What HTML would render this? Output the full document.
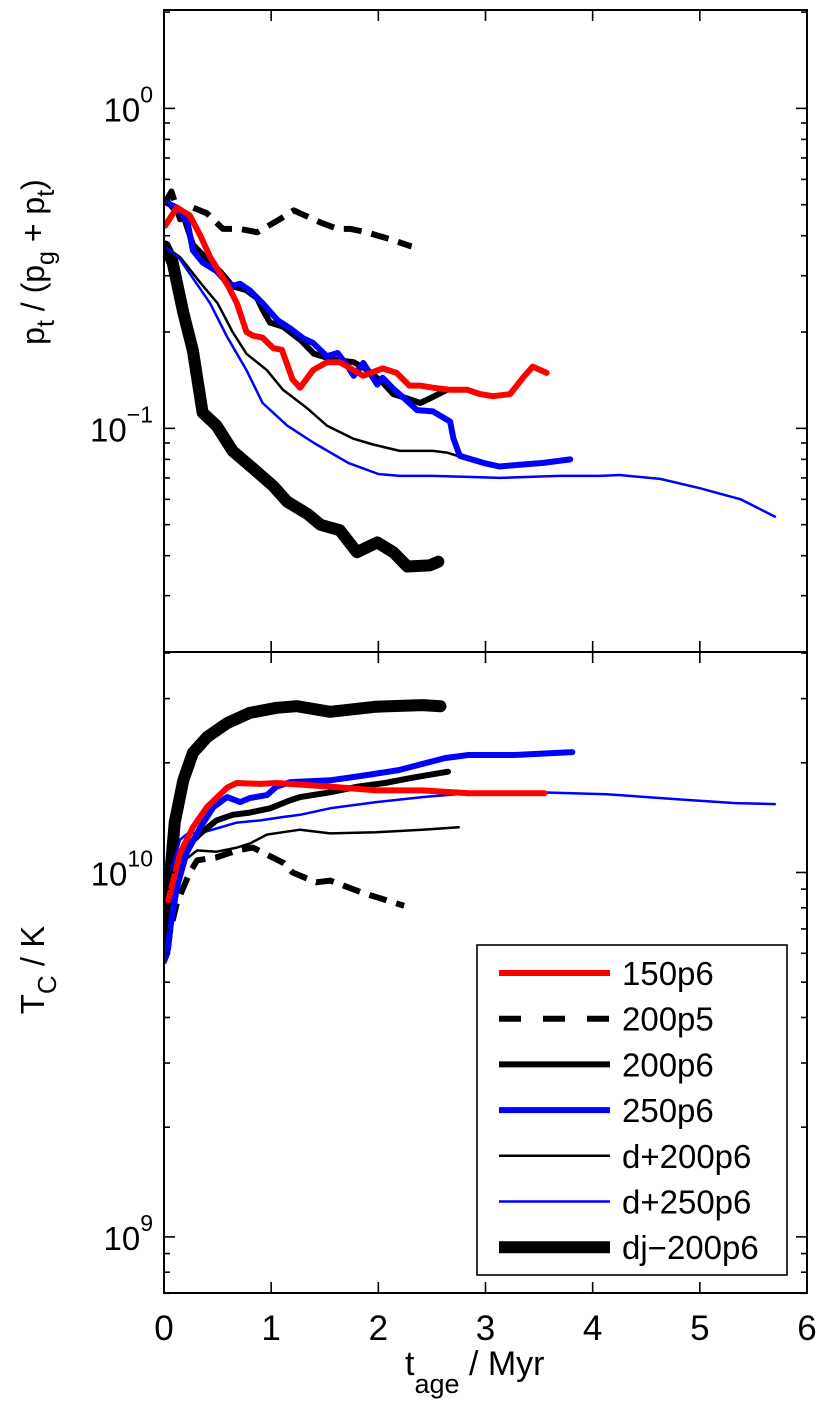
<!DOCTYPE html>
<html><head><meta charset="utf-8"><style>
html,body{margin:0;padding:0;background:#fff;}
svg{display:block;font-family:"Liberation Sans",Arial,sans-serif;}
</style></head><body>
<svg id="chart" width="830" height="1409" viewBox="0 0 830 1409"></svg>
<script>
// ---- data ----
const xTicks = [0,1,2,3,4,5,6];
const topDecades = [-1,0];
const botDecades = [9,10];
const legendLabels = ["150p6","200p5","200p6","250p6","d+200p6","d+250p6","dj\u2212200p6"];

// top panel: p_t/(p_g+p_t)
const t150 = [0.01,0.12,0.24,0.34,0.43,0.60,0.68,0.77,0.83,0.92,1.02,1.10,1.20,1.27,1.39,1.52,1.64,1.86,2.04,2.17,2.29,2.39,2.51,2.67,2.83,2.95,3.07,3.23,3.35,3.44,3.57];
const p150 = [0.43,0.49,0.463,0.40,0.343,0.278,0.246,0.20,0.195,0.192,0.178,0.176,0.142,0.134,0.152,0.161,0.161,0.146,0.154,0.149,0.136,0.136,0.134,0.132,0.132,0.128,0.126,0.128,0.144,0.156,0.149];
const t200p5 = [0.03,0.07,0.15,0.27,0.40,0.55,0.71,0.87,1.08,1.21,1.27,1.46,1.62,1.74,1.89,2.11,2.31];
const p200p5 = [0.52,0.55,0.45,0.49,0.47,0.42,0.42,0.41,0.45,0.48,0.47,0.44,0.42,0.42,0.41,0.39,0.37];
const t200 = [0.01,0.08,0.18,0.27,0.43,0.52,0.64,0.77,0.87,0.92,0.99,1.11,1.28,1.40,1.58,1.77,1.90,2.05,2.14,2.27,2.39,2.48,2.64];
const p200 = [0.52,0.49,0.463,0.375,0.33,0.31,0.278,0.27,0.255,0.235,0.214,0.208,0.188,0.171,0.164,0.161,0.152,0.138,0.128,0.124,0.12,0.124,0.132];
const t250 = [0.03,0.12,0.22,0.27,0.36,0.49,0.62,0.71,0.80,0.92,1.06,1.18,1.30,1.39,1.52,1.62,1.71,1.77,1.86,1.99,2.04,2.14,2.23,2.36,2.51,2.67,2.70,2.76,2.98,3.13,3.32,3.54,3.79];
const p250 = [0.505,0.49,0.44,0.36,0.33,0.31,0.278,0.283,0.27,0.246,0.218,0.205,0.191,0.185,0.168,0.172,0.157,0.146,0.16,0.137,0.144,0.133,0.125,0.114,0.113,0.105,0.093,0.082,0.078,0.076,0.077,0.078,0.080];
const td200 = [0.03,0.15,0.34,0.50,0.64,0.77,0.96,1.11,1.33,1.52,1.76,1.95,2.20,2.51,2.64,2.74];
const pd200 = [0.366,0.343,0.285,0.246,0.20,0.171,0.152,0.132,0.116,0.102,0.093,0.089,0.085,0.085,0.084,0.082];
const td250 = [0.03,0.15,0.43,0.59,0.77,0.92,1.15,1.40,1.72,2.0,2.20,2.51,2.83,3.13,3.41,3.69,4.07,4.25,4.63,5.0,5.38,5.70];
const pd250 = [0.366,0.337,0.246,0.193,0.152,0.12,0.102,0.090,0.078,0.072,0.071,0.071,0.0705,0.070,0.0705,0.071,0.071,0.0715,0.0695,0.065,0.060,0.053];
const tdj = [0.01,0.08,0.18,0.27,0.36,0.49,0.64,0.83,1.02,1.15,1.34,1.46,1.64,1.80,1.99,2.14,2.27,2.48,2.56];
const pdj = [0.37,0.33,0.23,0.175,0.112,0.102,0.085,0.075,0.066,0.059,0.054,0.050,0.048,0.041,0.044,0.041,0.037,0.0373,0.0383];

// bottom panel: T_C / K
const bt150 = [0.04,0.15,0.27,0.40,0.59,0.68,0.90,1.05,1.55,1.98,2.41,2.84,3.27,3.55];
const T150 = [0.84e10,1.13e10,1.33e10,1.51e10,1.71e10,1.76e10,1.75e10,1.76e10,1.72e10,1.68e10,1.68e10,1.65e10,1.65e10,1.65e10];
const bt200p5 = [0.02,0.06,0.12,0.24,0.31,0.49,0.68,0.83,1.12,1.20,1.42,1.55,1.85,2.24];
const T200p5 = [0.62e10,0.696e10,0.825e10,1.0e10,1.08e10,1.10e10,1.15e10,1.17e10,1.06e10,1.0e10,0.94e10,0.95e10,0.88e10,0.81e10];
const bt200 = [0.02,0.06,0.18,0.34,0.49,0.64,0.80,0.99,1.18,1.27,1.55,1.81,2.06,2.32,2.65];
const T200 = [0.65e10,0.953e10,1.15e10,1.28e10,1.39e10,1.44e10,1.46e10,1.50e10,1.58e10,1.61e10,1.66e10,1.72e10,1.76e10,1.82e10,1.89e10];
const bt250 = [0.0,0.03,0.06,0.12,0.21,0.34,0.46,0.59,0.71,0.80,0.96,1.05,1.18,1.55,1.89,2.19,2.62,2.84,3.27,3.81];
const T250 = [0.57e10,0.60e10,0.71e10,0.91e10,1.13e10,1.33e10,1.51e10,1.61e10,1.56e10,1.60e10,1.63e10,1.72e10,1.77e10,1.79e10,1.85e10,1.91e10,2.06e10,2.10e10,2.10e10,2.14e10];
const btd200 = [0.03,0.12,0.31,0.49,0.68,0.80,0.96,1.11,1.27,1.55,1.98,2.41,2.75];
const Td200 = [0.74e10,1.04e10,1.15e10,1.14e10,1.17e10,1.20e10,1.27e10,1.29e10,1.31e10,1.28e10,1.29e10,1.31e10,1.33e10];
const btd250 = [0.03,0.06,0.15,0.22,0.37,0.49,0.68,0.90,1.11,1.27,1.55,1.98,2.41,2.84,3.48,4.13,4.77,5.33,5.70];
const Td250 = [0.62e10,1.0e10,1.23e10,1.28e10,1.29e10,1.32e10,1.37e10,1.39e10,1.42e10,1.44e10,1.50e10,1.56e10,1.61e10,1.65e10,1.66e10,1.64e10,1.59e10,1.55e10,1.54e10];
const btdj = [0.01,0.03,0.06,0.10,0.18,0.27,0.40,0.59,0.80,1.05,1.24,1.55,1.98,2.41,2.58];
const Tdj = [0.62e10,0.696e10,1.0e10,1.37e10,1.79e10,2.13e10,2.35e10,2.57e10,2.74e10,2.83e10,2.86e10,2.76e10,2.85e10,2.88e10,2.86e10];

// ---- layout ----
const NS = "http://www.w3.org/2000/svg";
const svg = document.getElementById("chart");
const L=164, R=807, T1=10, B1=652, T2=652, B2=1293;
const xs = t => L + (t-0)/(6-0)*(R-L);
const topMin=Math.log10(0.02), topMax=Math.log10(2.03);
const botMin=8.846, botMax=10.605;
const ysTop = v => B1 - (Math.log10(v)-topMin)/(topMax-topMin)*(B1-T1);
const ysBot = v => B2 - (Math.log10(v)-botMin)/(botMax-botMin)*(B2-T2);

function mk(tag, attrs, parent){ const e=document.createElementNS(NS,tag); for(const k in attrs) e.setAttribute(k,attrs[k]); (parent||svg).appendChild(e); return e; }

const styles = [
 {c:"#ff0000", w:6, d:null},
 {c:"#000000", w:6, d:"18,10"},
 {c:"#000000", w:6, d:null},
 {c:"#0000ff", w:6, d:null},
 {c:"#000000", w:2.5, d:null},
 {c:"#0000ff", w:2.5, d:null},
 {c:"#000000", w:12, d:null}
];
const names = ["series-150p6","series-200p5","series-200p6","series-250p6","series-d200p6","series-d250p6","series-dj200p6"];

const topSeries = [[t150,p150],[t200p5,p200p5],[t200,p200],[t250,p250],[td200,pd200],[td250,pd250],[tdj,pdj]];
const botSeries = [[bt150,T150],[bt200p5,T200p5],[bt200,T200],[bt250,T250],[btd200,Td200],[btd250,Td250],[btdj,Tdj]];
const order = [6,4,5,1,2,3,0];
const defs = mk("defs",{});
const c1 = mk("clipPath",{id:"c1"},defs); mk("rect",{x:L,y:T1,width:R-L,height:B1-T1},c1);
const c2 = mk("clipPath",{id:"c2"},defs); mk("rect",{x:L,y:T2,width:R-L,height:B2-T2},c2);
const g1 = mk("g",{"clip-path":"url(#c1)"});


const g2 = mk("g",{"clip-path":"url(#c2)"});


function drawLineIn(g, tArr, vArr, ys, st, name){
  const pts = tArr.map((t,i)=>xs(t).toFixed(1)+","+ys(vArr[i]).toFixed(1)).join(" ");
  const p = mk("polyline",{points:pts, fill:"none", stroke:st.c, "stroke-width":st.w, "stroke-linejoin":"round", "stroke-linecap": st.d? "butt":"round"}, g);
  if(st.d) p.setAttribute("stroke-dasharray", st.d);
  
  
}
order.forEach(i=>{
  drawLineIn(g1, topSeries[i][0], topSeries[i][1], ysTop, styles[i], "top-"+names[i]);
  drawLineIn(g2, botSeries[i][0], botSeries[i][1], ysBot, styles[i], "bottom-"+names[i]);
});

const ax1 = mk("rect",{x:L,y:T1,width:R-L,height:B1-T1,fill:"none",stroke:"#000","stroke-width":2});


const ax2 = mk("rect",{x:L,y:T2,width:R-L,height:B2-T2,fill:"none",stroke:"#000","stroke-width":2});



xTicks.forEach(t=>{
  const x=xs(t);
  [[T1,1],[B1,-1],[T2,1],[B2,-1]].forEach(([y,s])=>mk("line",{x1:x,y1:y,x2:x,y2:y+s*11,stroke:"#000","stroke-width":1.6}));
  const tx = mk("text",{x:x,y:1340,"font-size":35,"text-anchor":"middle"}); tx.textContent=t;
  
  
});
function yTicks(ys, lo, hi, decs, T, B){
  for(let d=Math.floor(lo)-1; d<=Math.ceil(hi); d++){
    for(let k=1;k<10;k++){
      const v=k*Math.pow(10,d); const y=ys(v);
      if(y<T-0.5||y>B+0.5) continue;
      const len = k===1?11:6;
      mk("line",{x1:L,y1:y,x2:L+len,y2:y,stroke:"#000","stroke-width":1.6});
      mk("line",{x1:R,y1:y,x2:R-len,y2:y,stroke:"#000","stroke-width":1.6});
    }
  }
  decs.forEach(d=>{
    const y=ys(Math.pow(10,d));
    const tx = mk("text",{x:153,y:y+13,"font-size":33,"text-anchor":"end"});
    const a=mk("tspan",{},tx); a.textContent="10";
    const b=mk("tspan",{dy:-19,"font-size":23},tx); b.textContent=(d<0?"\u2212"+(-d):d);
    
    
  });
}
yTicks(ysTop, topMin, topMax, topDecades, T1, B1);
yTicks(ysBot, botMin, botMax, botDecades, T2, B2);

const xt = mk("text",{x:405,y:1375,"font-size":34,"text-anchor":"start"});
xt.innerHTML = 't<tspan dy="18" font-size="27">age</tspan><tspan dy="-18"> / Myr</tspan>';


const yt1 = mk("text",{x:0,y:0,"font-size":32,"text-anchor":"middle",transform:"translate(44,262) rotate(-90)"});
yt1.innerHTML = 'p<tspan dy="10" font-size="25">t</tspan><tspan dy="-10"> / (p</tspan><tspan dy="10" font-size="25">g</tspan><tspan dy="-10"> + p</tspan><tspan dy="10" font-size="25">t</tspan><tspan dy="-10">)</tspan>';


const yt2 = mk("text",{x:0,y:0,"font-size":33,"text-anchor":"middle",transform:"translate(44,970) rotate(-90)"});
yt2.innerHTML = 'T<tspan dy="12" font-size="26">C</tspan><tspan dy="-12"> / K</tspan>';



const lg = mk("g",{});


mk("rect",{x:477,y:945,width:310,height:330,fill:"#fff",stroke:"#000","stroke-width":1.6},lg);
legendLabels.forEach((lab,i)=>{
  const y = 973 + i*45.7;
  const e = mk("g",{},lg);
  
  
  const st=styles[i];
  const ln = mk("line",{x1:499,y1:y,x2:610,y2:y,stroke:st.c,"stroke-width":st.w},e);
  if(st.d) ln.setAttribute("stroke-dasharray","22,22");
  const tx = mk("text",{x:622,y:y+12,"font-size":33},e); tx.textContent=lab;
});
</script>
</body></html>
